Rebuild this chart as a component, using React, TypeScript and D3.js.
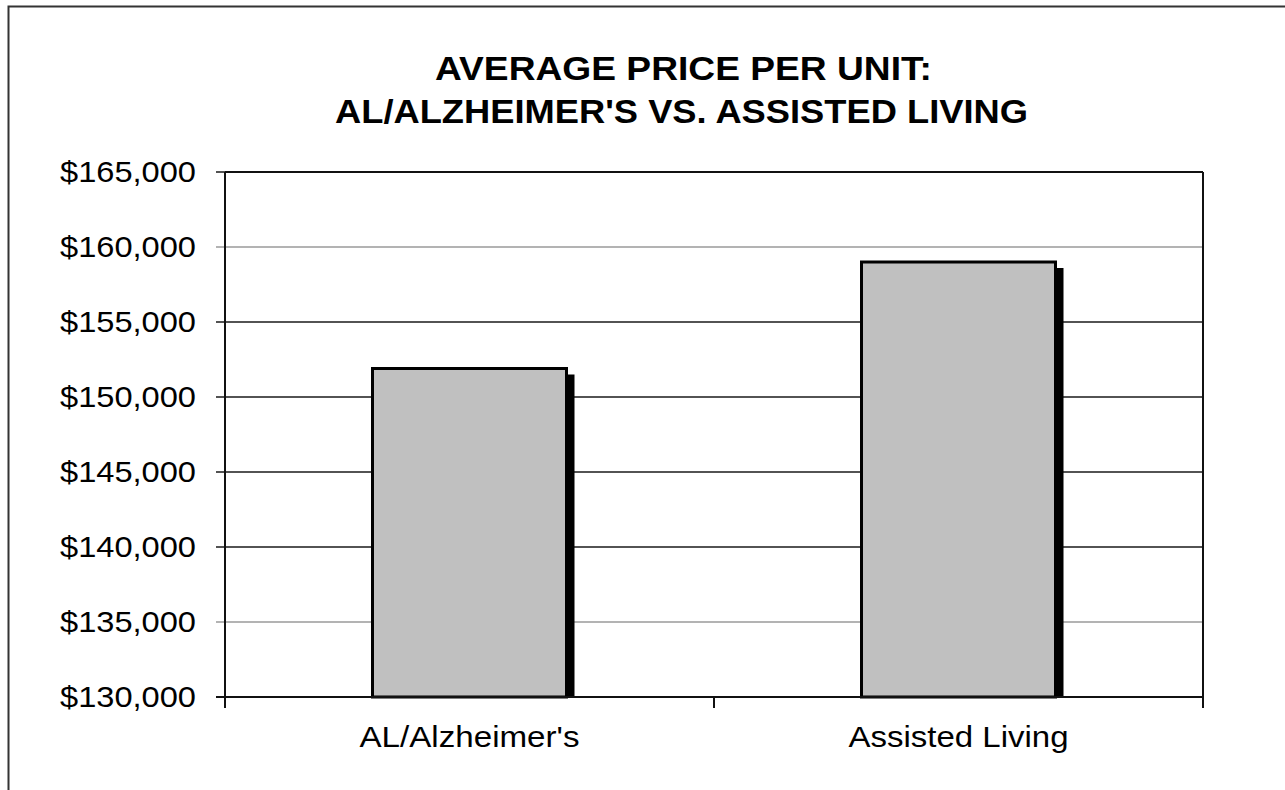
import React from "react";
import * as d3 from "d3";

const categories = ["AL/Alzheimer's", "Assisted Living"];
const values = [151900, 159000];
const yTicks = [130000, 135000, 140000, 145000, 150000, 155000, 160000, 165000];
const grayGrid = [160000, 135000];
const titleLines = ["AVERAGE PRICE PER UNIT:", "AL/ALZHEIMER'S VS. ASSISTED LIVING"];

const W = 1285;
const H = 790;
const plot = { left: 225, right: 1203, top: 172, bottom: 697 };
const FONT = "'Liberation Sans', Arial, Helvetica, sans-serif";

export default function App() {
  const y = d3.scaleLinear().domain([130000, 165000]).range([plot.bottom, plot.top]);
  const x = d3.scaleBand<string>().domain(categories).range([plot.left, plot.right]).paddingInner(0).paddingOuter(0);
  const fmt = (v: number) => "$" + d3.format(",")(v);
  const barW = 194;

  return (
    <svg width={W} height={H} style={{ position: "absolute", left: 0, top: 0, background: "#fff" }}>
      <rect x={8.5} y={6.5} width={1400} height={900} fill="#fff" stroke="#333" strokeWidth={2} />
      <text x={683.5} y={79.5} textAnchor="middle" fontFamily={FONT} fontWeight="bold" fontSize={33}
        textLength={497} lengthAdjust="spacingAndGlyphs" fill="#000">{titleLines[0]}</text>
      <text x={681.5} y={122.5} textAnchor="middle" fontFamily={FONT} fontWeight="bold" fontSize={33}
        textLength={693} lengthAdjust="spacingAndGlyphs" fill="#000">{titleLines[1]}</text>

      {/* gridlines */}
      {yTicks.map((t) => (
        <line key={"g" + t} x1={plot.left - 9} x2={plot.right} y1={y(t)} y2={y(t)}
          stroke={grayGrid.includes(t) ? "#9a9a9a" : "#1a1a1a"} strokeWidth={1.6} />
      ))}
      {/* y tick labels */}
      {yTicks.map((t) => (
        <text key={"l" + t} x={196} y={y(t) + 10} textAnchor="end" fontFamily={FONT} fontSize={30}
          textLength={136} lengthAdjust="spacingAndGlyphs" fill="#000">{fmt(t)}</text>
      ))}

      {/* bars */}
      {categories.map((c, i) => {
        const cx = (x(c) as number) + x.bandwidth() / 2;
        const bx = cx - barW / 2;
        const by = y(values[i]);
        return (
          <g key={c}>
            <rect x={bx + 8} y={by + 6} width={barW} height={plot.bottom - by - 6} fill="#000" />
            <rect x={bx} y={by} width={barW} height={plot.bottom - by} fill="#c0c0c0" stroke="#000" strokeWidth={3} />
          </g>
        );
      })}

      {/* frame */}
      <line x1={plot.left} x2={plot.left} y1={plot.top} y2={plot.bottom} stroke="#111" strokeWidth={2} />
      <line x1={plot.right} x2={plot.right} y1={plot.top} y2={plot.bottom} stroke="#111" strokeWidth={2} />
      <line x1={plot.left} x2={plot.right} y1={plot.top} y2={plot.top} stroke="#111" strokeWidth={2} />
      <line x1={plot.left - 9} x2={plot.right} y1={plot.bottom} y2={plot.bottom} stroke="#111" strokeWidth={2} />

      {/* x ticks */}
      {[...categories.map((c) => x(c) as number), plot.right].map((px, i) => (
        <line key={"xt" + i} x1={px} x2={px} y1={plot.bottom} y2={plot.bottom + 11} stroke="#111" strokeWidth={2} />
      ))}
      {categories.map((c) => (
        <text key={"xl" + c} x={(x(c) as number) + x.bandwidth() / 2} y={746.5} textAnchor="middle"
          fontFamily={FONT} fontSize={30} textLength={220} lengthAdjust="spacingAndGlyphs" fill="#000">{c}</text>
      ))}
    </svg>
  );
}
